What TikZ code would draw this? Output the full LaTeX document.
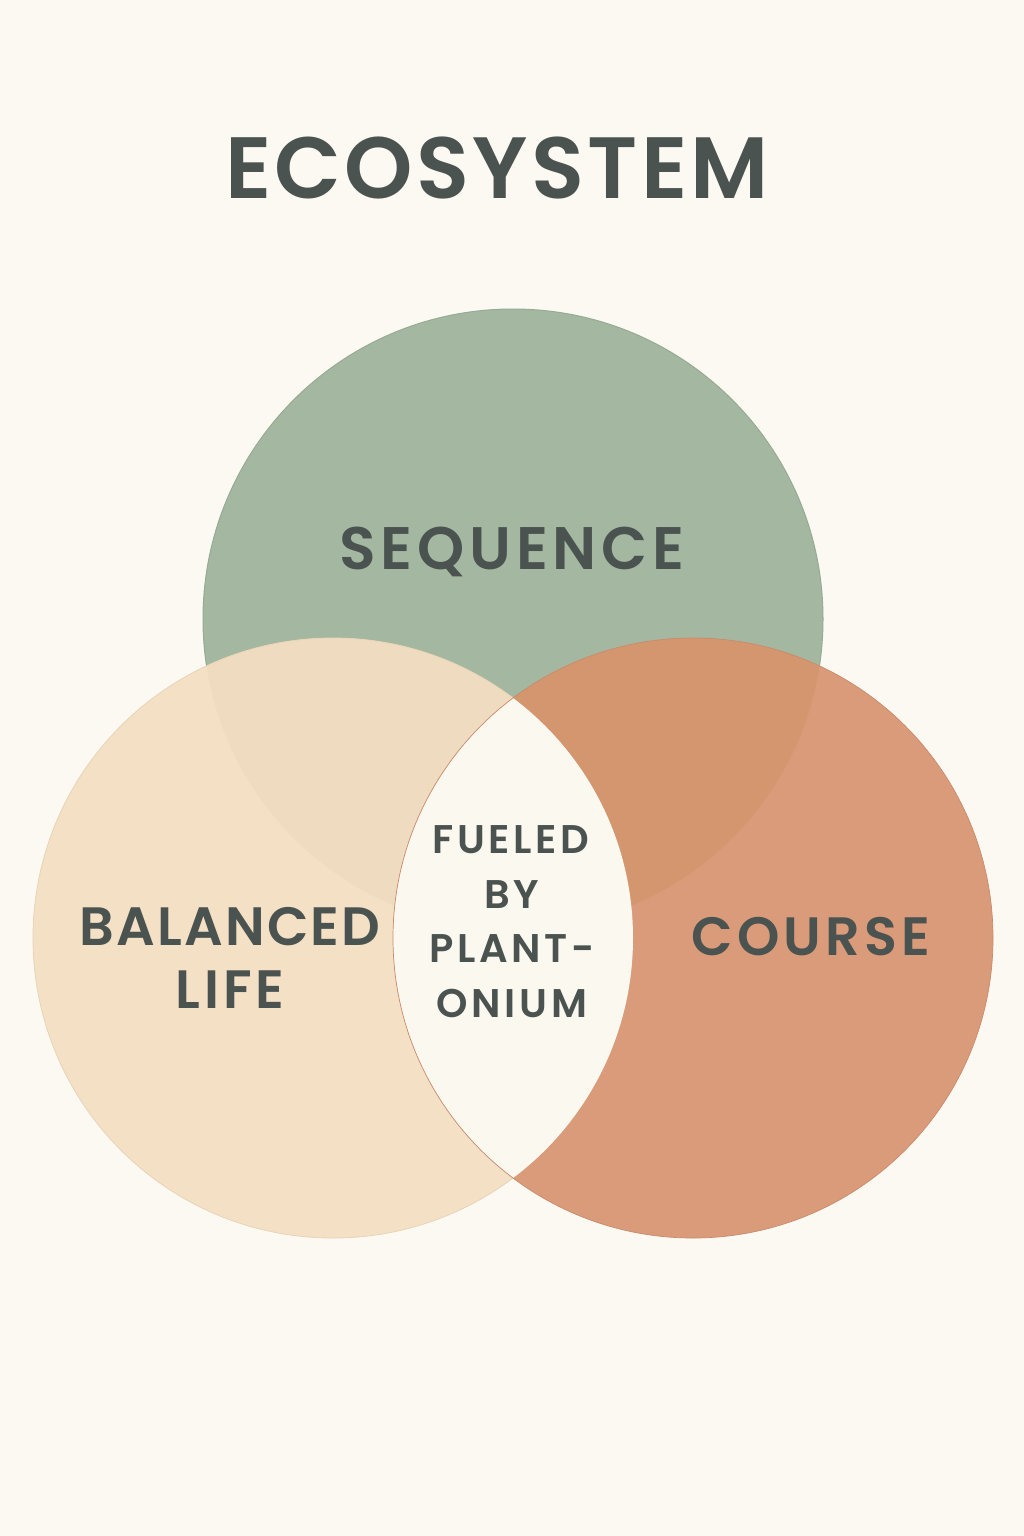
\documentclass[tikz,border=0pt]{standalone}
\usepackage{fontspec}
\setmainfont{Poppins}
\newfontfamily\hd{Poppins SemiBold}
\definecolor{bgc}{HTML}{FCF9F3}
\definecolor{greenc}{HTML}{A4B8A1}
\definecolor{greenedge}{HTML}{96AB93}
\definecolor{beigec}{HTML}{F3E0C5}
\definecolor{beigeedge}{HTML}{E9D4B5}
\definecolor{terrac}{HTML}{D99B7A}
\definecolor{terraedge}{HTML}{C98B6B}
\definecolor{gbc}{HTML}{EFDCC0}
\definecolor{gtc}{HTML}{D4966F}
\definecolor{lensc}{HTML}{FBF8F0}
\definecolor{txt}{HTML}{4B5350}
\tikzset{
  lbl/.style={anchor=base, inner sep=0pt, text=txt, font=\hd},
}
\begin{document}
\begin{tikzpicture}[x=1pt,y=-1pt]
\useasboundingbox (0,0) rectangle (1024,1536);
\fill[bgc] (0,0) rectangle (1024,1536);
% circles
\fill[greenc] (513,619) circle[radius=310];
\fill[beigec] (333,938) circle[radius=300];
\fill[terrac] (693,938) circle[radius=300];
\begin{scope}
  \clip (513,619) circle[radius=310];
  \fill[gbc] (333,938) circle[radius=300];
  \fill[gtc] (693,938) circle[radius=300];
\end{scope}
\begin{scope}
  \clip (333,938) circle[radius=300];
  \fill[lensc] (693,938) circle[radius=300];
\end{scope}
% thin edges
\begin{scope}[even odd rule]
  \clip (-10,-10) rectangle (1034,1546) (333,938) circle[radius=300];
  \clip (-10,-10) rectangle (1034,1546) (693,938) circle[radius=300];
  \draw[greenedge, line width=1] (513,619) circle[radius=310];
\end{scope}
\begin{scope}[even odd rule]
  \clip (-10,-10) rectangle (1034,1546) (693,938) circle[radius=300];
  \draw[beigeedge, line width=0.8] (333,938) circle[radius=300];
\end{scope}
\draw[terraedge, line width=0.7] (693,938) circle[radius=300];
% texts
\node[lbl, font=\hd\fontsize{87}{87}\selectfont\addfontfeature{LetterSpace=3.8}] (title) at (497,198) {ECOSYSTEM};
\node[lbl, font=\hd\fontsize{60}{60}\selectfont\addfontfeature{LetterSpace=8}] (seq) at (512,569) {SEQUENCE};
\node[lbl, font=\hd\fontsize{54}{54}\selectfont\addfontfeature{LetterSpace=4}] (bal1) at (230,945) {BALANCED};
\node[lbl, font=\hd\fontsize{54}{54}\selectfont\addfontfeature{LetterSpace=7}] (bal2) at (230,1008) {LIFE};
\node[lbl, font=\hd\fontsize{54}{54}\selectfont\addfontfeature{LetterSpace=8}] (course) at (811,955) {COURSE};
\node[lbl, font=\hd\fontsize{40}{40}\selectfont\addfontfeature{LetterSpace=9}] (f1) at (511,853) {FUELED};
\node[lbl, font=\hd\fontsize{40}{40}\selectfont\addfontfeature{LetterSpace=9}] (f2) at (512,908) {BY};
\node[lbl, font=\hd\fontsize{40}{40}\selectfont\addfontfeature{LetterSpace=9}] (f3) at (512,962) {PLANT-};
\node[lbl, font=\hd\fontsize{40}{40}\selectfont\addfontfeature{LetterSpace=9}] (f4) at (512,1017) {ONIUM};
\end{tikzpicture}
\end{document}
